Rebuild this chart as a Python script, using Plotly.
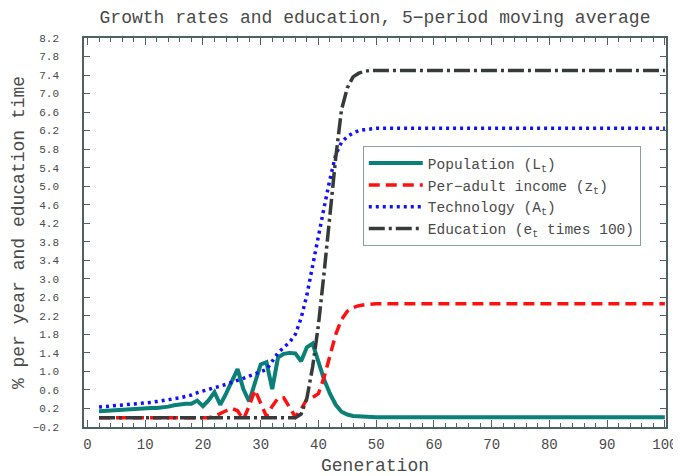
import plotly.graph_objects as go

generation = [2, 3, 4, 5, 6, 7, 8, 9, 10, 11, 12, 13, 14, 15, 16, 17, 18, 19, 20,
              21, 22, 23, 24, 25, 26, 27, 28, 29, 30, 31, 32, 33, 34, 35, 36, 37, 38, 39, 40,
              41, 42, 43, 44, 45, 46, 47, 48, 49, 50, 55, 60, 65, 70, 75, 80, 85, 90, 95, 100]

population = [0.14, 0.15, 0.15, 0.16, 0.17, 0.17, 0.18, 0.19, 0.20, 0.21, 0.21, 0.22, 0.24, 0.27,
              0.29, 0.30, 0.30, 0.37, 0.25, 0.38, 0.55, 0.28, 0.52, 0.78, 1.05, 0.62, 0.35, 0.75,
              1.15, 1.20, 0.62, 1.30, 1.38, 1.40, 1.39, 1.22, 1.52, 1.60, 1.22, 0.82, 0.52, 0.28,
              0.13, 0.07, 0.04, 0.03, 0.02, 0.015, 0.01,
              0.01, 0.01, 0.01, 0.01, 0.01, 0.01, 0.01, 0.01, 0.01, 0.01]

income = [0.0, 0.0, 0.0, 0.0, 0.0, 0.0, 0.0, 0.0, 0.0, 0.0, 0.0, 0.0, 0.0, 0.0,
          0.0, 0.0, 0.0, 0.0, 0.0, 0.0, 0.03, 0.10, 0.15, 0.20, 0.15, -0.04, 0.25, 0.60,
          0.30, 0.03, 0.25, 0.42, 0.43, 0.22, 0.02, 0.18, 0.40, 0.44, 0.52, 0.88, 1.32, 1.80,
          2.12, 2.30, 2.38, 2.42, 2.44, 2.45, 2.46,
          2.46, 2.46, 2.46, 2.46, 2.46, 2.46, 2.46, 2.46, 2.46, 2.46]

technology = [0.23, 0.24, 0.25, 0.26, 0.27, 0.28, 0.29, 0.30, 0.31, 0.33, 0.35, 0.37, 0.38, 0.40,
              0.43, 0.46, 0.49, 0.54, 0.58, 0.62, 0.65, 0.68, 0.72, 0.76, 0.80, 0.85, 0.90, 0.95,
              1.00, 1.04, 1.22, 1.40, 1.52, 1.63, 1.80, 2.15, 2.65, 3.30, 3.95, 4.55, 5.15, 5.68,
              5.95, 6.07, 6.15, 6.20, 6.22, 6.24, 6.25,
              6.25, 6.25, 6.25, 6.25, 6.25, 6.25, 6.25, 6.25, 6.25, 6.25]

education = [0.0, 0.0, 0.0, 0.0, 0.0, 0.0, 0.0, 0.0, 0.0, 0.0, 0.0, 0.0, 0.0, 0.0,
             0.0, 0.0, 0.0, 0.0, 0.0, 0.0, 0.0, 0.0, 0.0, 0.0, 0.0, 0.0, 0.0, 0.0,
             0.0, 0.0, 0.0, 0.0, 0.0, 0.0, 0.0, 0.08, 0.42, 1.10, 2.00, 3.15, 4.40, 5.62,
             6.65, 7.12, 7.36, 7.44, 7.48, 7.50, 7.50,
             7.50, 7.50, 7.50, 7.50, 7.50, 7.50, 7.50, 7.50, 7.50, 7.50]

x_ticks = [0, 10, 20, 30, 40, 50, 60, 70, 80, 90, 100]
y_ticks = [-0.2, 0.2, 0.6, 1.0, 1.4, 1.8, 2.2, 2.6, 3.0, 3.4, 3.8, 4.2, 4.6,
           5.0, 5.4, 5.8, 6.2, 6.6, 7.0, 7.4, 7.8, 8.2]

names = ["Population (L<sub>t</sub>)",
         "Per\u2212adult income (z<sub>t</sub>)",
         "Technology (A<sub>t</sub>)",
         "Education (e<sub>t</sub> times 100)"]

AX = "#4f6262"
TXT = "#4a4a4a"
FONT = "Liberation Mono"

fig = go.Figure()
fig.add_trace(go.Scatter(x=generation, y=population, mode="lines", name=names[0],
                         line=dict(color="#0b8078", width=4)))
fig.add_trace(go.Scatter(x=generation, y=income, mode="lines", name=names[1],
                         line=dict(color="#ff1010", width=3.5, dash="11px,6px")))
fig.add_trace(go.Scatter(x=generation, y=technology, mode="lines", name=names[2],
                         line=dict(color="#1010ff", width=3.5, dash="3px,4px")))
fig.add_trace(go.Scatter(x=generation, y=education, mode="lines", name=names[3],
                         line=dict(color="#363a3a", width=3.5, dash="16px,4px,3px,4px")))

# the page body adds an 8px offset, so the figure is 8px smaller than the window
fig.update_layout(
    width=673, height=468,
    margin=dict(l=76, r=15, t=30, b=49, autoexpand=False),
    plot_bgcolor="white", paper_bgcolor="white",
    font=dict(family=FONT, color=TXT),
    title=dict(text="Growth rates and education, 5\u2212period moving average",
               x=0.5, xref="paper", y=0.994, yref="container", yanchor="top",
               font=dict(size=18, family=FONT, color=TXT)),
    legend=dict(x=0.479, y=0.722, xanchor="left", yanchor="top",
                bordercolor="#8aa0a0", borderwidth=1, bgcolor="white",
                font=dict(size=14.5, family=FONT, color=TXT),
                itemwidth=54, tracegroupgap=0),
    xaxis=dict(range=[-0.6, 100.2], tickvals=x_ticks, ticks="inside", ticklen=7,
               tickcolor=AX, tickwidth=1, showline=True, linecolor=AX, linewidth=1.5,
               mirror="ticks", showgrid=False, zeroline=False, automargin=False,
               minor=dict(dtick=2, tick0=0, ticks="inside", ticklen=4, tickcolor=AX, showgrid=False),
               tickfont=dict(size=14, family=FONT, color=TXT), ticklabelstandoff=3,
               title=dict(text="Generation", font=dict(size=18, family=FONT, color=TXT), standoff=17)),
    yaxis=dict(range=[-0.2, 8.2], tickvals=y_ticks, tickformat=".1f", ticksuffix="\u00a0",
               ticks="inside", ticklen=6,
               tickcolor=AX, tickwidth=1, showline=True, linecolor=AX, linewidth=1.5,
               mirror="ticks", showgrid=False, zeroline=False, automargin=False,
               tickfont=dict(size=11, family=FONT, color=TXT), ticklabelstandoff=21,
               title=dict(text="% per year and education time",
                          font=dict(size=18, family=FONT, color=TXT), standoff=3)),
)

fig.write_html("out.html")
